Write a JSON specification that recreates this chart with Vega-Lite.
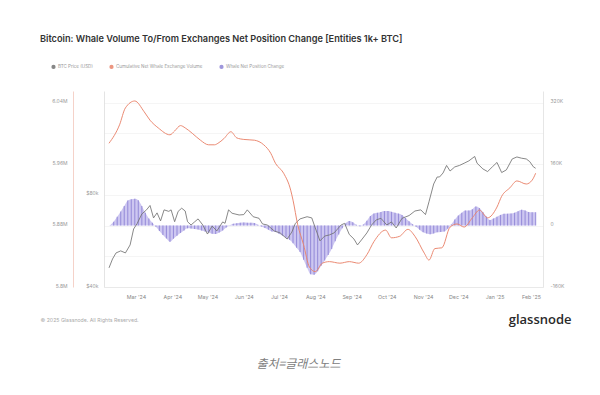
{
  "$schema": "https://vega.github.io/schema/vega-lite/v6.json",
  "width": 439,
  "height": 196,
  "autosize": {"type": "none"},
  "padding": {"left": 104, "top": 91, "right": 57, "bottom": 108},
  "background": "white",
  "title": {"text": "Bitcoin: Whale Volume To/From Exchanges Net Position Change [Entities 1k+ BTC]", "anchor": "start", "frame": "group", "dx": -64, "offset": 20, "fontSize": 9.2, "fontWeight": 600, "color": "#333333", "font": "Inter"},
  "config": {"view": {"stroke": null}, "font": "Inter"},
  "datasets": {
    "price": [
      {"d": "2024-02-07", "p": 46200}, {"d": "2024-02-10", "p": 49400}, {"d": "2024-02-13", "p": 51700}, {"d": "2024-02-17", "p": 52500},
      {"d": "2024-02-21", "p": 51700}, {"d": "2024-02-25", "p": 54900}, {"d": "2024-02-28", "p": 61900}, {"d": "2024-03-02", "p": 64500},
      {"d": "2024-03-06", "p": 69300}, {"d": "2024-03-10", "p": 71500}, {"d": "2024-03-13", "p": 73900}, {"d": "2024-03-16", "p": 67300},
      {"d": "2024-03-19", "p": 69900}, {"d": "2024-03-22", "p": 65800}, {"d": "2024-03-25", "p": 71500}, {"d": "2024-03-29", "p": 70700},
      {"d": "2024-03-31", "p": 71500}, {"d": "2024-04-03", "p": 65400}, {"d": "2024-04-06", "p": 70700}, {"d": "2024-04-09", "p": 72400},
      {"d": "2024-04-12", "p": 70900}, {"d": "2024-04-14", "p": 65400}, {"d": "2024-04-17", "p": 63800}, {"d": "2024-04-20", "p": 65300},
      {"d": "2024-04-23", "p": 66800}, {"d": "2024-04-27", "p": 63800}, {"d": "2024-05-01", "p": 59600}, {"d": "2024-05-05", "p": 63300},
      {"d": "2024-05-09", "p": 61000}, {"d": "2024-05-14", "p": 65300}, {"d": "2024-05-16", "p": 64600}, {"d": "2024-05-19", "p": 71500},
      {"d": "2024-05-22", "p": 69700}, {"d": "2024-05-28", "p": 68800}, {"d": "2024-06-01", "p": 69000}, {"d": "2024-06-04", "p": 71500},
      {"d": "2024-06-09", "p": 67900}, {"d": "2024-06-14", "p": 67100}, {"d": "2024-06-17", "p": 64300}, {"d": "2024-06-21", "p": 63800},
      {"d": "2024-06-27", "p": 61000}, {"d": "2024-07-02", "p": 60100}, {"d": "2024-07-08", "p": 57400}, {"d": "2024-07-12", "p": 60500},
      {"d": "2024-07-15", "p": 64600}, {"d": "2024-07-19", "p": 66800}, {"d": "2024-07-25", "p": 67900}, {"d": "2024-07-29", "p": 67300},
      {"d": "2024-08-01", "p": 62400}, {"d": "2024-08-05", "p": 56600}, {"d": "2024-08-09", "p": 58700}, {"d": "2024-08-13", "p": 59200},
      {"d": "2024-08-17", "p": 60100}, {"d": "2024-08-23", "p": 63800}, {"d": "2024-08-26", "p": 64600}, {"d": "2024-08-30", "p": 59400},
      {"d": "2024-09-03", "p": 57400}, {"d": "2024-09-06", "p": 54900}, {"d": "2024-09-10", "p": 57400}, {"d": "2024-09-14", "p": 60100},
      {"d": "2024-09-18", "p": 63800}, {"d": "2024-09-22", "p": 66300}, {"d": "2024-09-26", "p": 67100}, {"d": "2024-10-01", "p": 63800},
      {"d": "2024-10-05", "p": 65300}, {"d": "2024-10-09", "p": 62400}, {"d": "2024-10-14", "p": 67100}, {"d": "2024-10-20", "p": 68500},
      {"d": "2024-10-25", "p": 70900}, {"d": "2024-10-30", "p": 71500}, {"d": "2024-11-03", "p": 69000}, {"d": "2024-11-06", "p": 76000},
      {"d": "2024-11-10", "p": 86900}, {"d": "2024-11-13", "p": 91600}, {"d": "2024-11-15", "p": 91600}, {"d": "2024-11-18", "p": 94400},
      {"d": "2024-11-21", "p": 99900}, {"d": "2024-11-24", "p": 95800}, {"d": "2024-11-28", "p": 98800}, {"d": "2024-12-02", "p": 99900},
      {"d": "2024-12-06", "p": 101600}, {"d": "2024-12-10", "p": 103400}, {"d": "2024-12-15", "p": 106900}, {"d": "2024-12-17", "p": 101600},
      {"d": "2024-12-22", "p": 97300}, {"d": "2024-12-26", "p": 95400}, {"d": "2024-12-30", "p": 98800}, {"d": "2025-01-03", "p": 102200},
      {"d": "2025-01-07", "p": 94700}, {"d": "2025-01-11", "p": 96600}, {"d": "2025-01-16", "p": 104900}, {"d": "2025-01-20", "p": 106500},
      {"d": "2025-01-24", "p": 105500}, {"d": "2025-01-28", "p": 104900}, {"d": "2025-01-31", "p": 102800}, {"d": "2025-02-03", "p": 98900},
      {"d": "2025-02-05", "p": 97800}
    ],
    "cum": [
      {"d": "2024-02-07", "c": 5987000}, {"d": "2024-02-16", "c": 6011000}, {"d": "2024-02-21", "c": 6033000}, {"d": "2024-02-29", "c": 6042000},
      {"d": "2024-03-08", "c": 6028000}, {"d": "2024-03-13", "c": 6017000}, {"d": "2024-03-20", "c": 6007000}, {"d": "2024-03-30", "c": 5998000},
      {"d": "2024-04-03", "c": 6003000}, {"d": "2024-04-08", "c": 6010000}, {"d": "2024-04-12", "c": 6007000}, {"d": "2024-04-18", "c": 6000000},
      {"d": "2024-04-25", "c": 5991000}, {"d": "2024-05-02", "c": 5985000}, {"d": "2024-05-07", "c": 5985000}, {"d": "2024-05-10", "c": 5987000},
      {"d": "2024-05-15", "c": 5993000}, {"d": "2024-05-21", "c": 6002000}, {"d": "2024-05-26", "c": 5994000}, {"d": "2024-06-01", "c": 5992000},
      {"d": "2024-06-10", "c": 5991000}, {"d": "2024-06-18", "c": 5985000}, {"d": "2024-06-24", "c": 5974000}, {"d": "2024-06-28", "c": 5961000},
      {"d": "2024-07-05", "c": 5948000}, {"d": "2024-07-11", "c": 5926000}, {"d": "2024-07-13", "c": 5913000}, {"d": "2024-07-17", "c": 5881000},
      {"d": "2024-07-22", "c": 5855000}, {"d": "2024-07-27", "c": 5826000}, {"d": "2024-08-01", "c": 5820000}, {"d": "2024-08-07", "c": 5831000},
      {"d": "2024-08-13", "c": 5833000}, {"d": "2024-08-22", "c": 5831000}, {"d": "2024-08-30", "c": 5833000}, {"d": "2024-09-07", "c": 5831000},
      {"d": "2024-09-14", "c": 5842000}, {"d": "2024-09-20", "c": 5859000}, {"d": "2024-09-30", "c": 5874000}, {"d": "2024-10-05", "c": 5864000},
      {"d": "2024-10-12", "c": 5866000}, {"d": "2024-10-19", "c": 5875000}, {"d": "2024-10-25", "c": 5866000}, {"d": "2024-11-02", "c": 5844000},
      {"d": "2024-11-06", "c": 5835000}, {"d": "2024-11-11", "c": 5850000}, {"d": "2024-11-17", "c": 5851000}, {"d": "2024-11-24", "c": 5878000},
      {"d": "2024-11-30", "c": 5882000}, {"d": "2024-12-06", "c": 5878000}, {"d": "2024-12-13", "c": 5890000}, {"d": "2024-12-19", "c": 5900000},
      {"d": "2024-12-26", "c": 5890000}, {"d": "2025-01-03", "c": 5904000}, {"d": "2025-01-07", "c": 5918000}, {"d": "2025-01-14", "c": 5929000},
      {"d": "2025-01-20", "c": 5938000}, {"d": "2025-01-28", "c": 5934000}, {"d": "2025-02-02", "c": 5939000}, {"d": "2025-02-05", "c": 5948000}
    ],
    "net": [
      {"d": "2024-02-08", "v": 1000}, {"d": "2024-02-11", "v": 10100}, {"d": "2024-02-14", "v": 22600}, {"d": "2024-02-17", "v": 36700},
      {"d": "2024-02-20", "v": 50700}, {"d": "2024-02-23", "v": 65100}, {"d": "2024-02-26", "v": 68200}, {"d": "2024-02-29", "v": 69700},
      {"d": "2024-03-03", "v": 65800}, {"d": "2024-03-06", "v": 51000}, {"d": "2024-03-09", "v": 33300}, {"d": "2024-03-12", "v": 18000},
      {"d": "2024-03-15", "v": 7300}, {"d": "2024-03-18", "v": -3400}, {"d": "2024-03-21", "v": -14300}, {"d": "2024-03-24", "v": -24500},
      {"d": "2024-03-27", "v": -33600}, {"d": "2024-03-30", "v": -42400}, {"d": "2024-04-02", "v": -34300}, {"d": "2024-04-05", "v": -26500},
      {"d": "2024-04-08", "v": -19300}, {"d": "2024-04-11", "v": -13300}, {"d": "2024-04-14", "v": -7300}, {"d": "2024-04-17", "v": -7800},
      {"d": "2024-04-20", "v": -9100}, {"d": "2024-04-23", "v": -10400}, {"d": "2024-04-26", "v": -13000}, {"d": "2024-04-29", "v": -15600},
      {"d": "2024-05-02", "v": -18200}, {"d": "2024-05-05", "v": -21300}, {"d": "2024-05-08", "v": -22400}, {"d": "2024-05-11", "v": -18500},
      {"d": "2024-05-14", "v": -12700}, {"d": "2024-05-17", "v": -5200}, {"d": "2024-05-20", "v": 500}, {"d": "2024-05-23", "v": 4700},
      {"d": "2024-05-26", "v": 5700}, {"d": "2024-05-29", "v": 7300}, {"d": "2024-06-01", "v": 7800}, {"d": "2024-06-04", "v": 7300},
      {"d": "2024-06-07", "v": 7000}, {"d": "2024-06-10", "v": 6500}, {"d": "2024-06-13", "v": 2100}, {"d": "2024-06-16", "v": -2600},
      {"d": "2024-06-19", "v": -6800}, {"d": "2024-06-22", "v": -11200}, {"d": "2024-06-25", "v": -15400}, {"d": "2024-06-28", "v": -16900},
      {"d": "2024-07-01", "v": -21300}, {"d": "2024-07-04", "v": -26000}, {"d": "2024-07-07", "v": -31500}, {"d": "2024-07-10", "v": -37200},
      {"d": "2024-07-13", "v": -46100}, {"d": "2024-07-16", "v": -57800}, {"d": "2024-07-19", "v": -69000}, {"d": "2024-07-22", "v": -89000},
      {"d": "2024-07-25", "v": -109800}, {"d": "2024-07-28", "v": -127000}, {"d": "2024-07-31", "v": -128000}, {"d": "2024-08-03", "v": -119200},
      {"d": "2024-08-06", "v": -104900}, {"d": "2024-08-09", "v": -90800}, {"d": "2024-08-12", "v": -76800}, {"d": "2024-08-15", "v": -60900},
      {"d": "2024-08-18", "v": -41100}, {"d": "2024-08-21", "v": -23700}, {"d": "2024-08-24", "v": -7000}, {"d": "2024-08-27", "v": 6000},
      {"d": "2024-08-30", "v": 11700}, {"d": "2024-09-02", "v": 8300}, {"d": "2024-09-05", "v": 1800}, {"d": "2024-09-08", "v": -1800},
      {"d": "2024-09-11", "v": 2900}, {"d": "2024-09-14", "v": 12500}, {"d": "2024-09-17", "v": 24500}, {"d": "2024-09-20", "v": 31500},
      {"d": "2024-09-23", "v": 33300}, {"d": "2024-09-26", "v": 35400}, {"d": "2024-09-29", "v": 37500}, {"d": "2024-10-02", "v": 38000},
      {"d": "2024-10-05", "v": 35600}, {"d": "2024-10-08", "v": 33300}, {"d": "2024-10-11", "v": 31000}, {"d": "2024-10-14", "v": 27100},
      {"d": "2024-10-17", "v": 19500}, {"d": "2024-10-20", "v": 10900}, {"d": "2024-10-23", "v": 3600}, {"d": "2024-10-26", "v": -3100},
      {"d": "2024-10-29", "v": -10900}, {"d": "2024-11-01", "v": -17700}, {"d": "2024-11-04", "v": -20600}, {"d": "2024-11-07", "v": -22900},
      {"d": "2024-11-10", "v": -20800}, {"d": "2024-11-13", "v": -17700}, {"d": "2024-11-16", "v": -16700}, {"d": "2024-11-19", "v": -15600},
      {"d": "2024-11-22", "v": -8300}, {"d": "2024-11-25", "v": 2900}, {"d": "2024-11-28", "v": 15600}, {"d": "2024-12-01", "v": 26300},
      {"d": "2024-12-04", "v": 33300}, {"d": "2024-12-07", "v": 39000}, {"d": "2024-12-10", "v": 39000}, {"d": "2024-12-13", "v": 42400},
      {"d": "2024-12-16", "v": 49200}, {"d": "2024-12-19", "v": 45800}, {"d": "2024-12-22", "v": 35400}, {"d": "2024-12-25", "v": 23200},
      {"d": "2024-12-28", "v": 14100}, {"d": "2024-12-31", "v": 18200}, {"d": "2025-01-03", "v": 22900}, {"d": "2025-01-06", "v": 27600},
      {"d": "2025-01-09", "v": 30400}, {"d": "2025-01-12", "v": 30700}, {"d": "2025-01-15", "v": 31200}, {"d": "2025-01-18", "v": 33300},
      {"d": "2025-01-21", "v": 36900}, {"d": "2025-01-24", "v": 40900}, {"d": "2025-01-27", "v": 38800}, {"d": "2025-01-30", "v": 35100},
      {"d": "2025-02-02", "v": 34600}, {"d": "2025-02-05", "v": 34600}
    ]
  },
  "encoding": {
    "x": {
      "field": "d", "type": "temporal",
      "scale": {"type": "utc", "domain": [{"year": 2024, "month": 2, "date": 7, "utc": true}, {"year": 2025, "month": 2, "date": 7, "utc": true}]},
      "axis": {
        "values": [
          {"year": 2024, "month": 3, "date": 1, "utc": true}, {"year": 2024, "month": 4, "date": 1, "utc": true},
          {"year": 2024, "month": 5, "date": 1, "utc": true}, {"year": 2024, "month": 6, "date": 1, "utc": true},
          {"year": 2024, "month": 7, "date": 1, "utc": true}, {"year": 2024, "month": 8, "date": 1, "utc": true},
          {"year": 2024, "month": 9, "date": 1, "utc": true}, {"year": 2024, "month": 10, "date": 1, "utc": true},
          {"year": 2024, "month": 11, "date": 1, "utc": true}, {"year": 2024, "month": 12, "date": 1, "utc": true},
          {"year": 2025, "month": 1, "date": 1, "utc": true}, {"year": 2025, "month": 2, "date": 1, "utc": true}
        ],
        "format": "%b '%y", "labelAlign": "center", "ticks": false, "grid": false,
        "domain": true, "domainColor": "#e6e6e6", "domainWidth": 0.8,
        "labelFontSize": 5.3, "labelColor": "#888888", "labelPadding": 7,
        "title": "출처=글래스노드", "titleX": 194, "titleY": 76, "titleAlign": "center", "titleBaseline": "middle",
        "titleFontSize": 12, "titleFontStyle": "italic", "titleFontWeight": "normal", "titleColor": "#808080", "titleFont": "Noto Sans CJK KR"
      }
    }
  },
  "layer": [
    {
      "data": {"name": "net"},
      "encoding": {
        "y": {
          "field": "v", "type": "quantitative",
          "scale": {"domain": [-160000, 350000], "nice": false, "zero": false},
          "axis": {
            "orient": "right", "values": [-160000, -80000, 0, 80000, 160000, 240000, 320000],
            "labelExpr": "datum.value % 160000 === 0 ? (datum.value === 0 ? '0' : (datum.value / 1000) + 'K') : ''",
            "grid": true, "gridColor": "#eeeeee", "gridWidth": 0.6, "domain": true, "domainColor": "#e0e0e0", "domainWidth": 0.8,
            "ticks": false, "labelFontSize": 5, "labelColor": "#999999", "labelPadding": 7, "labelBaseline": "alphabetic",
            "title": "glassnode", "titleAngle": 0, "titleX": 28, "titleY": 228, "titleAlign": "right", "titleBaseline": "middle",
            "titleFontSize": 13, "titleFontWeight": 600, "titleColor": "#2a2a2a", "titleFont": "Open Sans"
          }
        },
        "y2": {"datum": 0}
      },
      "layer": [
        {"mark": {"type": "area", "color": "#c4bdee", "opacity": 0.85, "interpolate": "monotone"}},
        {
          "mark": {"type": "bar", "size": 1.1, "opacity": 0.85},
          "encoding": {
            "color": {
              "datum": "Whale Net Position Change",
              "scale": {"domain": ["BTC Price (USD)", "Cumulative Net Whale Exchange Volume", "Whale Net Position Change"], "range": ["#737373", "#e9846c", "#8f85d6"]},
              "legend": {
                "orient": "none", "legendX": -53, "legendY": -27, "direction": "horizontal", "title": null,
                "symbolType": "circle", "symbolSize": 7, "symbolStrokeWidth": 1.6, "labelFontSize": 4.5, "labelColor": "#999999",
                "labelOffset": 2, "columnPadding": 13
              }
            }
          }
        }
      ]
    },
    {
      "data": {"name": "price"},
      "mark": {"type": "line", "strokeWidth": 0.85, "interpolate": "linear"},
      "encoding": {
        "y": {
          "field": "p", "type": "quantitative",
          "scale": {"type": "log", "domain": [40000, 175000], "nice": false},
          "axis": {
            "orient": "left", "values": [40000, 80000], "labelExpr": "'$' + (datum.value / 1000) + 'k'",
            "grid": false, "ticks": false, "domainColor": "#dddddd", "domainWidth": 0.8,
            "labelFontSize": 5, "labelColor": "#999999", "labelPadding": 6, "labelBaseline": "alphabetic", "title": null
          }
        },
        "color": {"datum": "BTC Price (USD)"}
      }
    },
    {
      "data": {"name": "cum"},
      "mark": {"type": "line", "strokeWidth": 0.95, "interpolate": "monotone"},
      "encoding": {
        "y": {
          "field": "c", "type": "quantitative",
          "scale": {"domain": [5800000, 6055000], "nice": false, "zero": false},
          "axis": {
            "orient": "left", "offset": 31, "values": [5800000, 5880000, 5960000, 6040000],
            "labelExpr": "format(datum.value / 1000000, '.2~f') + 'M'",
            "grid": false, "ticks": false, "domainColor": "#f3c7bb", "domainWidth": 0.8,
            "labelFontSize": 5, "labelColor": "#999999", "labelPadding": 6, "labelBaseline": "alphabetic",
            "title": "© 2025 Glassnode. All Rights Reserved.", "titleAngle": 0, "titleX": -33, "titleY": 228,
            "titleAlign": "left", "titleBaseline": "middle", "titleFontSize": 5.2, "titleFontWeight": "normal", "titleColor": "#aaaaaa"
          }
        },
        "color": {"datum": "Cumulative Net Whale Exchange Volume"}
      }
    }
  ],
  "resolve": {"scale": {"y": "independent"}}
}
